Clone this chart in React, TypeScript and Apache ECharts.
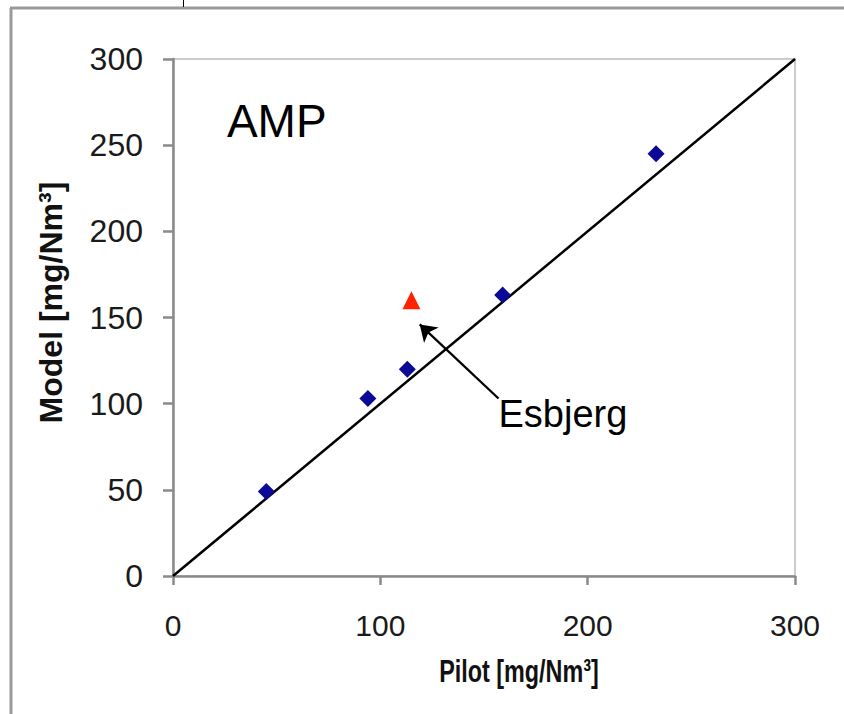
import React, { useEffect, useRef } from "react";
import * as echarts from "echarts";

const pilotMeasured: number[] = [45, 94, 113, 159, 233];
const modelPredicted: number[] = [49, 103, 120, 163, 245];
const esbjergPoint: number[] = [115, 160];
const parityLine: number[][] = [[0, 0], [300, 300]];
const arrowTail: number[] = [157, 103];
const arrowHead: number[] = [119, 146];
const esbjergLabelAt: number[] = [157, 94];
const ampLabelAt: number[] = [26, 264];
const axisMin = 0;
const axisMax = 300;
const xInterval = 100;
const yInterval = 50;
const xAxisTitle = "Pilot [mg/Nm³]";
const yAxisTitle = "Model [mg/Nm³]";

const FONT = "Arial, 'Liberation Sans', sans-serif";

export default function App() {
  const ref = useRef<HTMLDivElement>(null);
  useEffect(() => {
    if (!ref.current) return;
    const chart = echarts.init(ref.current, undefined, { renderer: "svg" });
    const mainPts = pilotMeasured.map((x, i) => [x, modelPredicted[i]]);
    chart.setOption({
      animation: false,
      backgroundColor: "#fff",
      graphic: [
        { type: "line", shape: { x1: 11, y1: 8, x2: 11, y2: 714 }, style: { stroke: "#9a9a9a", lineWidth: 3 } },
        { type: "line", shape: { x1: 10, y1: 8, x2: 844, y2: 8 }, style: { stroke: "#9a9a9a", lineWidth: 3 } },
        { type: "line", shape: { x1: 183.5, y1: 0, x2: 183.5, y2: 7 }, style: { stroke: "#000", lineWidth: 1 } },
        {
          type: "text",
          x: 519,
          y: 671,
          scaleX: 0.73,
          style: {
            text: xAxisTitle,
            fontFamily: FONT,
            fontWeight: "bold",
            fontSize: 32,
            fill: "#111",
            align: "center",
            verticalAlign: "middle",
          },
        },
      ],
      grid: {
        left: 173,
        top: 59,
        right: 49,
        bottom: 138,
        show: true,
        borderColor: "#cccccc",
        borderWidth: 2,
      },
      xAxis: {
        type: "value",
        min: axisMin,
        max: axisMax,
        interval: xInterval,
        axisLine: { show: true, lineStyle: { color: "#8a8a8a", width: 2.5 } },
        axisTick: { show: true, inside: false, length: 9, lineStyle: { color: "#8a8a8a", width: 2.5 } },
        axisLabel: { fontFamily: FONT, fontSize: 30, color: "#1a1a1a", margin: 34 },
        splitLine: { show: false },
      },
      yAxis: {
        type: "value",
        min: axisMin,
        max: axisMax,
        interval: yInterval,
        name: yAxisTitle,
        nameLocation: "middle",
        nameGap: 106,
        nameTextStyle: {
          fontFamily: FONT,
          fontWeight: "bold",
          fontSize: 32,
          color: "#111",
          padding: [0, 0, 0, 30],
        },
        axisLine: { show: true, lineStyle: { color: "#8a8a8a", width: 2.5 } },
        axisTick: { show: true, inside: false, length: 10, lineStyle: { color: "#8a8a8a", width: 2.5 } },
        axisLabel: { fontFamily: FONT, fontSize: 32, color: "#1a1a1a", margin: 30 },
        splitLine: { show: false },
      },
      series: [
        {
          type: "line",
          data: parityLine,
          showSymbol: false,
          symbol: "none",
          lineStyle: { color: "#000", width: 2.5 },
          silent: true,
          z: 2,
        },
        {
          type: "scatter",
          data: mainPts,
          symbol: "diamond",
          symbolSize: 17,
          itemStyle: { color: "#0a0a96", opacity: 1 },
          z: 3,
        },
        {
          type: "scatter",
          data: [esbjergPoint],
          symbol: "triangle",
          symbolSize: 18,
          itemStyle: { color: "#ff2200", opacity: 1 },
          z: 3,
        },
        {
          type: "line",
          data: [],
          silent: true,
          markLine: {
            silent: true,
            symbol: ["none", "arrow"],
            symbolSize: 16,
            label: { show: false },
            itemStyle: { color: "#000", opacity: 1 },
            lineStyle: { color: "#000", width: 2.3, type: "solid", opacity: 1 },
            data: [[{ coord: arrowTail }, { coord: arrowHead }]],
          },
        },
        {
          type: "scatter",
          data: [esbjergLabelAt],
          symbolSize: 0,
          silent: true,
          itemStyle: { opacity: 1 },
          label: {
            show: true,
            position: "right",
            distance: 0,
            formatter: "Esbjerg",
            fontFamily: FONT,
            fontSize: 38,
            color: "#000",
          },
        },
        {
          type: "scatter",
          data: [ampLabelAt],
          symbolSize: 0,
          silent: true,
          itemStyle: { opacity: 1 },
          label: {
            show: true,
            position: "right",
            distance: 0,
            formatter: "AMP",
            fontFamily: FONT,
            fontSize: 46,
            color: "#000",
          },
        },
      ],
    });
    return () => chart.dispose();
  }, []);
  return (
    <div
      ref={ref}
      style={{ position: "absolute", left: 0, top: 0, width: 844, height: 714 }}
    />
  );
}
